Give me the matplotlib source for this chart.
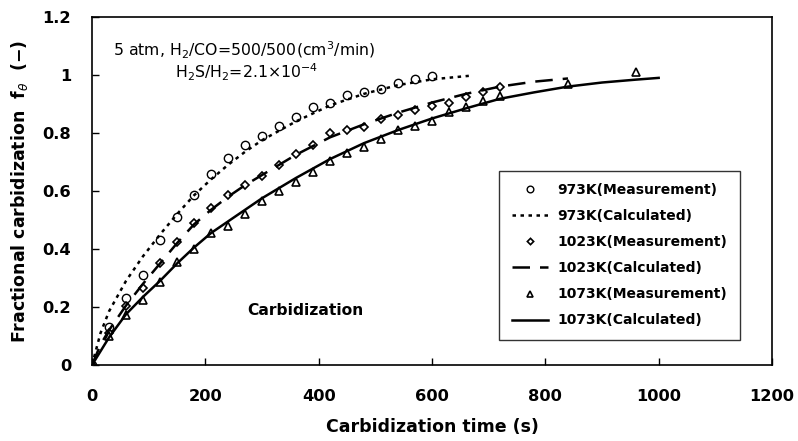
import matplotlib
matplotlib.use("Agg")
import matplotlib.pyplot as plt

plt.rcParams['font.family'] = ['DejaVu Sans']
plt.rcParams['mathtext.fontset'] = 'dejavusans'

# Measurements (time in s, fractional carbidization)
t_meas_973 = [0, 30, 60, 90, 120, 150, 180, 210, 240, 270, 300, 330, 360, 390, 420,
              450, 480, 510, 540, 570, 600]
f_meas_973 = [0, 0.13, 0.23, 0.31, 0.43, 0.51, 0.585, 0.66, 0.715, 0.757, 0.79, 0.825,
              0.855, 0.888, 0.905, 0.93, 0.94, 0.95, 0.974, 0.986, 0.995]

t_meas_1023 = [0, 30, 60, 90, 120, 150, 180, 210, 240, 270, 300, 330, 360, 390, 420,
               450, 480, 510, 540, 570, 600, 630, 660, 690, 720]
f_meas_1023 = [0, 0.11, 0.205, 0.264, 0.352, 0.424, 0.49, 0.54, 0.585, 0.62, 0.653,
               0.688, 0.726, 0.757, 0.80, 0.81, 0.82, 0.848, 0.862, 0.879, 0.894,
               0.905, 0.923, 0.94, 0.96]

t_meas_1073 = [0, 30, 60, 90, 120, 150, 180, 210, 240, 270, 300, 330, 360, 390, 420,
               450, 480, 510, 540, 570, 600, 630, 660, 690, 720, 840, 960]
f_meas_1073 = [0, 0.10, 0.172, 0.223, 0.287, 0.355, 0.40, 0.455, 0.479, 0.52, 0.567,
               0.60, 0.63, 0.666, 0.703, 0.73, 0.753, 0.78, 0.81, 0.825, 0.842,
               0.871, 0.888, 0.909, 0.928, 0.969, 1.009]

# Calculated curves
t_calc_973 = [0, 15, 30, 60, 90, 120, 150, 180, 210, 240, 270, 300, 360, 420, 480,
              540, 600, 665]
f_calc_973 = [0, 0.11, 0.185, 0.29, 0.375, 0.45, 0.52, 0.585, 0.64, 0.69, 0.735,
              0.775, 0.84, 0.895, 0.935, 0.965, 0.985, 0.997]

t_calc_1023 = [0, 15, 30, 60, 90, 120, 150, 180, 210, 240, 270, 300, 360, 420, 480,
               540, 600, 660, 720, 780, 840]
f_calc_1023 = [0, 0.07, 0.12, 0.205, 0.28, 0.35, 0.42, 0.485, 0.535, 0.58, 0.62,
               0.655, 0.725, 0.785, 0.83, 0.87, 0.905, 0.935, 0.96, 0.977, 0.988]

t_calc_1073 = [0, 30, 60, 90, 120, 150, 180, 210, 240, 270, 300, 360, 420, 480, 540,
               600, 660, 720, 780, 840, 900, 960, 1000]
f_calc_1073 = [0, 0.095, 0.175, 0.235, 0.29, 0.35, 0.405, 0.455, 0.495, 0.535, 0.575,
               0.645, 0.71, 0.765, 0.81, 0.85, 0.885, 0.918, 0.94, 0.96, 0.974,
               0.984, 0.99]

x_ticks = [0, 200, 400, 600, 800, 1000, 1200]
y_ticks = [0, 0.2, 0.4, 0.6, 0.8, 1.0, 1.2]
y_tick_labels = ['0', '0.2', '0.4', '0.6', '0.8', '1', '1.2']

fig = plt.figure(figsize=(7.98, 4.41), dpi=100)
ax = fig.add_axes([0.1153, 0.1723, 0.8521, 0.7892])

ax.plot(t_meas_973, f_meas_973, linestyle='none', marker='o', markersize=6,
        markerfacecolor='white', markeredgecolor='black', markeredgewidth=1.0,
        label='973K(Measurement)')
ax.plot(t_calc_973, f_calc_973, color='black', linestyle=(0, (1.4, 1.8)), linewidth=1.8,
        label='973K(Calculated)')
ax.plot(t_meas_1023, f_meas_1023, linestyle='none', marker='D', markersize=4,
        markerfacecolor='white', markeredgecolor='black', markeredgewidth=1.2,
        label='1023K(Measurement)')
ax.plot(t_calc_1023, f_calc_1023, color='black', linestyle=(0, (7, 4)), linewidth=1.8,
        label='1023K(Calculated)')
ax.plot(t_meas_1073, f_meas_1073, linestyle='none', marker='^', markersize=5.5,
        markerfacecolor='white', markeredgecolor='black', markeredgewidth=1.2,
        label='1073K(Measurement)')
ax.plot(t_calc_1073, f_calc_1073, color='black', linestyle='-', linewidth=1.8,
        label='1073K(Calculated)')

ax.set_xlim(0, 1200)
ax.set_ylim(0, 1.2)
ax.set_xticks(x_ticks)
ax.set_yticks(y_ticks)
ax.set_yticklabels(y_tick_labels)
ax.tick_params(direction='in', length=5, width=1.0, labelsize=11.7)
ax.tick_params(axis='x', pad=17)
ax.tick_params(axis='y', pad=15)
for lab in ax.get_xticklabels() + ax.get_yticklabels():
    lab.set_fontweight('bold')
for s in ax.spines.values():
    s.set_linewidth(1.2)

ax.set_xlabel('Carbidization time (s)', fontsize=12.5, fontweight='bold', labelpad=10)
ax.set_ylabel(r'Fractional carbidization  f$_\theta$  (−)', fontsize=12.5,
              fontweight='bold', labelpad=9)

ax.text(0.031, 0.905, r'5 atm, H$_2$/CO=500/500(cm$^3$/min)', transform=ax.transAxes,
        fontsize=11.3, ha='left', va='center')
ax.text(0.122, 0.84, r'H$_2$S/H$_2$=2.1$\times$10$^{-4}$', transform=ax.transAxes,
        fontsize=11.3, ha='left', va='center')
ax.text(0.228, 0.158, 'Carbidization', transform=ax.transAxes,
        fontsize=11.2, fontweight='bold', ha='left', va='center')

leg = ax.legend(loc='lower right', bbox_to_anchor=(0.953, 0.072), borderaxespad=0,
                frameon=True, fancybox=False, edgecolor='black', fontsize=10.0,
                handlelength=2.6, handletextpad=0.7, borderpad=0.9, labelspacing=0.87,
                markerscale=0.8)
leg.get_frame().set_linewidth(1.0)
for txt in leg.get_texts():
    txt.set_fontweight('bold')

fig.savefig('out.png', dpi=100)
